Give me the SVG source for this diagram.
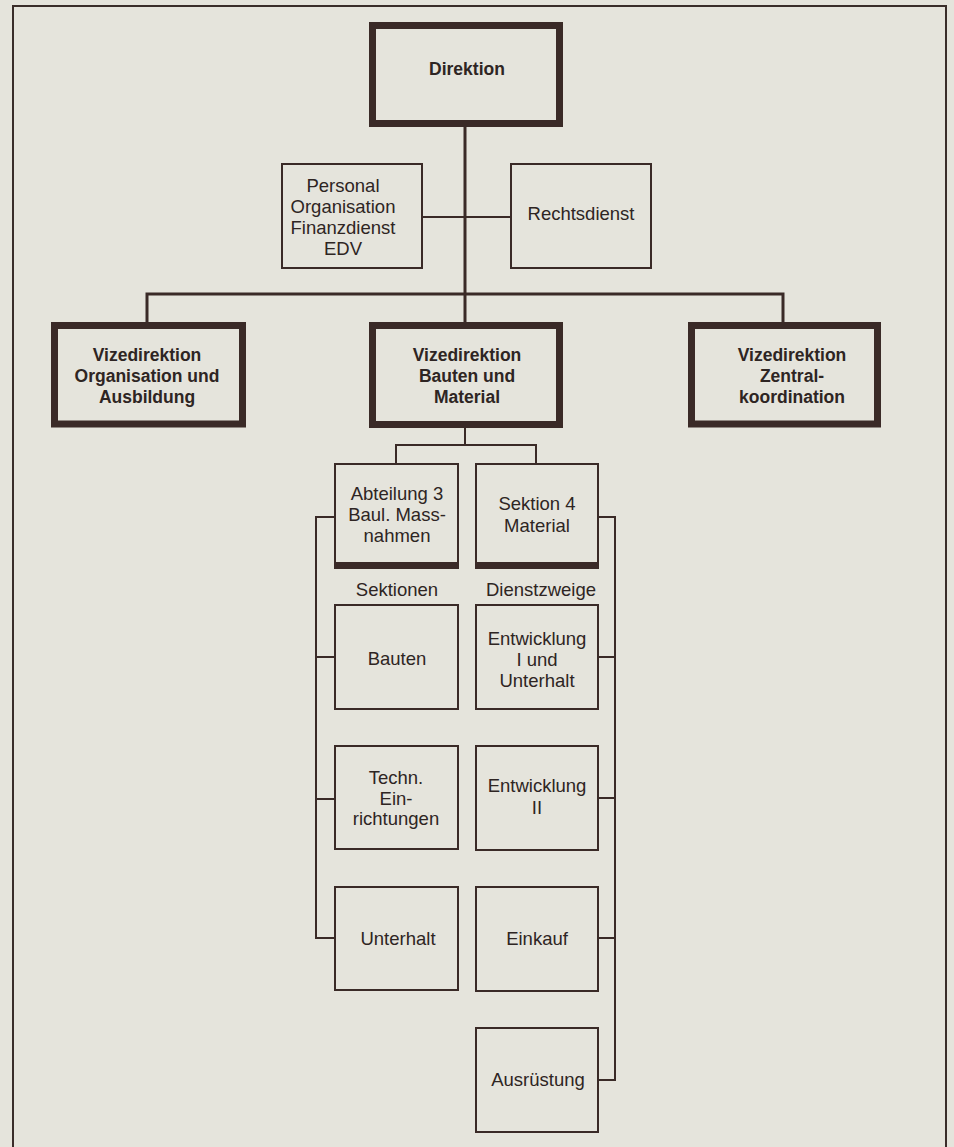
<svg xmlns="http://www.w3.org/2000/svg" width="954" height="1147" viewBox="0 0 954 1147">
<style>
.bg{fill:#e5e4dc}
.frame{fill:none;stroke:#3a2d2a;stroke-width:2}
.thick{fill:none;stroke:#3a2a27;stroke-width:7}
.thin{fill:none;stroke:#3a2a27;stroke-width:2}
.band{fill:#3a2a27}
.con{fill:none;stroke:#3a2a27;stroke-width:2}
.con3{fill:none;stroke:#3a2a27;stroke-width:3}
text{font-family:"Liberation Sans",Arial,sans-serif;fill:#2e2523;text-anchor:middle}
.b{font-weight:bold;font-size:17.5px}
.r{font-size:18.5px}
</style>
<rect class="bg" x="0" y="0" width="954" height="1147"/>
<path class="frame" d="M13,1147 V6 H946 V1147"/>

<g id="connectors">
<path class="con3" d="M465,127 V322"/>
<path class="con" d="M422,217 H511"/>
<path class="con3" d="M147,322 V294 H783 V322"/>
<path class="con" d="M465,428 V445 M396,463 V445 H536 V463"/>
<path class="con" d="M334,517 H316 V938 H334 M316,657 H334 M316,799 H334"/>
<path class="con" d="M598,517 H615 V1080 H598 M598,657 H615 M598,798 H615 M598,938 H615"/>
</g>

<g id="direktion">
<rect class="thick" x="372.5" y="25.5" width="187" height="98"/>
<text class="b" x="467" y="75">Direktion</text>
</g>

<g id="personal">
<rect class="thin" x="282" y="164" width="140" height="104"/>
<text class="r" x="343" y="192">Personal</text>
<text class="r" x="343" y="213">Organisation</text>
<text class="r" x="343" y="234">Finanzdienst</text>
<text class="r" x="343" y="255">EDV</text>
</g>

<g id="rechtsdienst">
<rect class="thin" x="511" y="164" width="140" height="104"/>
<text class="r" x="581" y="220">Rechtsdienst</text>
</g>

<g id="vize-organisation">
<rect class="thick" x="54.5" y="325.5" width="188" height="98.5"/>
<text class="b" x="147" y="361">Vizedirektion</text>
<text class="b" x="147" y="382">Organisation und</text>
<text class="b" x="147" y="403">Ausbildung</text>
</g>

<g id="vize-bauten">
<rect class="thick" x="372.5" y="325.5" width="187" height="99"/>
<text class="b" x="467" y="361">Vizedirektion</text>
<text class="b" x="467" y="382">Bauten und</text>
<text class="b" x="467" y="403">Material</text>
</g>

<g id="vize-zentral">
<rect class="thick" x="691.5" y="325.5" width="186" height="98.5"/>
<text class="b" x="792" y="361">Vizedirektion</text>
<text class="b" x="792" y="382">Zentral-</text>
<text class="b" x="792" y="403">koordination</text>
</g>

<g id="abteilung3">
<rect class="thin" x="335" y="464" width="123" height="104"/>
<rect class="band" x="334" y="562" width="125" height="7"/>
<text class="r" x="397" y="500">Abteilung 3</text>
<text class="r" x="397" y="521">Baul. Mass-</text>
<text class="r" x="397" y="542">nahmen</text>
</g>

<g id="sektion4">
<rect class="thin" x="476" y="464" width="122" height="104"/>
<rect class="band" x="475" y="562" width="124" height="7"/>
<text class="r" x="537" y="510">Sektion 4</text>
<text class="r" x="537" y="532">Material</text>
</g>

<g id="label-sektionen">
<text class="r" x="397" y="596">Sektionen</text>
</g>
<g id="label-dienstzweige">
<text class="r" x="541" y="596">Dienstzweige</text>
</g>

<g id="bauten">
<rect class="thin" x="335" y="605" width="123" height="104"/>
<text class="r" x="397" y="665">Bauten</text>
</g>

<g id="entwicklung1">
<rect class="thin" x="476" y="605" width="122" height="104"/>
<text class="r" x="537" y="645">Entwicklung</text>
<text class="r" x="537" y="666">I und</text>
<text class="r" x="537" y="687">Unterhalt</text>
</g>

<g id="techn">
<rect class="thin" x="335" y="746" width="123" height="103"/>
<text class="r" x="396" y="784">Techn.</text>
<text class="r" x="396" y="805">Ein-</text>
<text class="r" x="396" y="825">richtungen</text>
</g>

<g id="entwicklung2">
<rect class="thin" x="476" y="746" width="122" height="104"/>
<text class="r" x="537" y="792">Entwicklung</text>
<text class="r" x="537" y="814">II</text>
</g>

<g id="unterhalt">
<rect class="thin" x="335" y="887" width="123" height="103"/>
<text class="r" x="398" y="945">Unterhalt</text>
</g>

<g id="einkauf">
<rect class="thin" x="476" y="887" width="122" height="104"/>
<text class="r" x="537" y="945">Einkauf</text>
</g>

<g id="ausruestung">
<rect class="thin" x="476" y="1028" width="122" height="104"/>
<text class="r" x="538" y="1086">Ausrüstung</text>
</g>
</svg>
